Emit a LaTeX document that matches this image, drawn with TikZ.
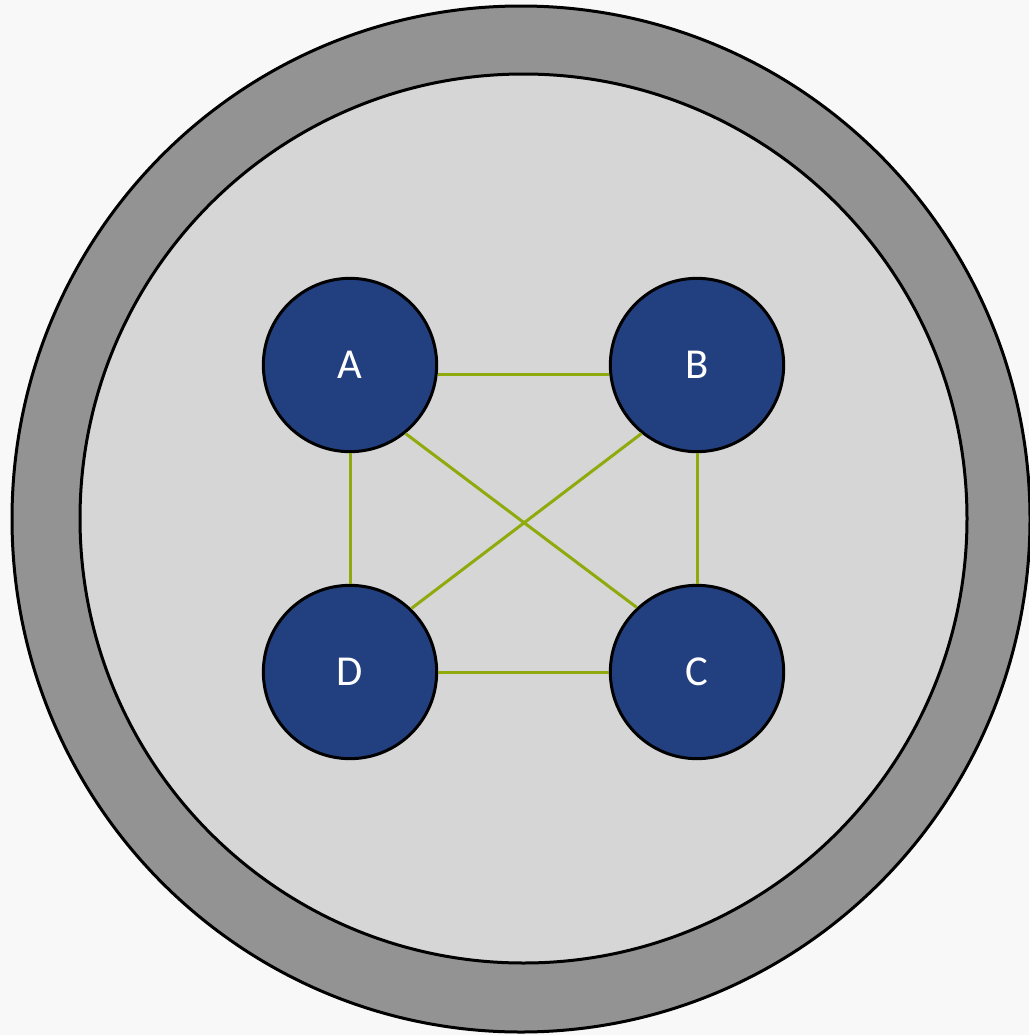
\documentclass[tikz,border=0pt]{standalone}
\usepackage{fontspec}
\setmainfont{Carlito}
\begin{document}
\tikzset{every picture/.style={line width=0.75pt}}
\tikzset{
  station/.style={circle, draw=black, line width=2.25, fill={rgb, 255:red, 34; green, 64; blue, 127 }, text=white, minimum size=130pt, inner sep=0pt, font=\fontsize{32}{38}\selectfont},
  link/.style={draw={rgb, 255:red, 143; green, 170; blue, 12 }, line width=2.25}
}

\begin{tikzpicture}[x=0.75pt,y=0.75pt,yscale=-1,xscale=1]
\useasboundingbox (0,0) rectangle (1029,1035);
\fill [color={rgb, 255:red, 248; green, 248; blue, 248 }] (0,0) rectangle (1029,1035);

%Shape: Ellipse outer ring
\draw [fill={rgb, 255:red, 147; green, 147; blue, 147 }  ,fill opacity=1 ][line width=2.25]  (521,519) ellipse [x radius=509, y radius=513] ;
%Shape: Ellipse inner disc
\draw [fill={rgb, 255:red, 214; green, 214; blue, 214 }  ,fill opacity=1 ][line width=2.25]  (523.5,518.5) ellipse [x radius=443.5, y radius=444.5] ;

% Nodes
\node [station] (A) at (350,365) {A};
\node [station] (B) at (697,365) {B};
\node [station] (C) at (697,672) {C};
\node [station] (D) at (350,672) {D};

%Straight Lines
\draw [link] (A.-6) -- (B.186) ;
\draw [link] (D) -- (C) ;
\draw [link] (A) -- (D) ;
\draw [link] (B) -- (C) ;
\draw [link] (A.309) -- (C.133) ;
\draw [link] (B.231) -- (D.46) ;

\end{tikzpicture}
\end{document}
